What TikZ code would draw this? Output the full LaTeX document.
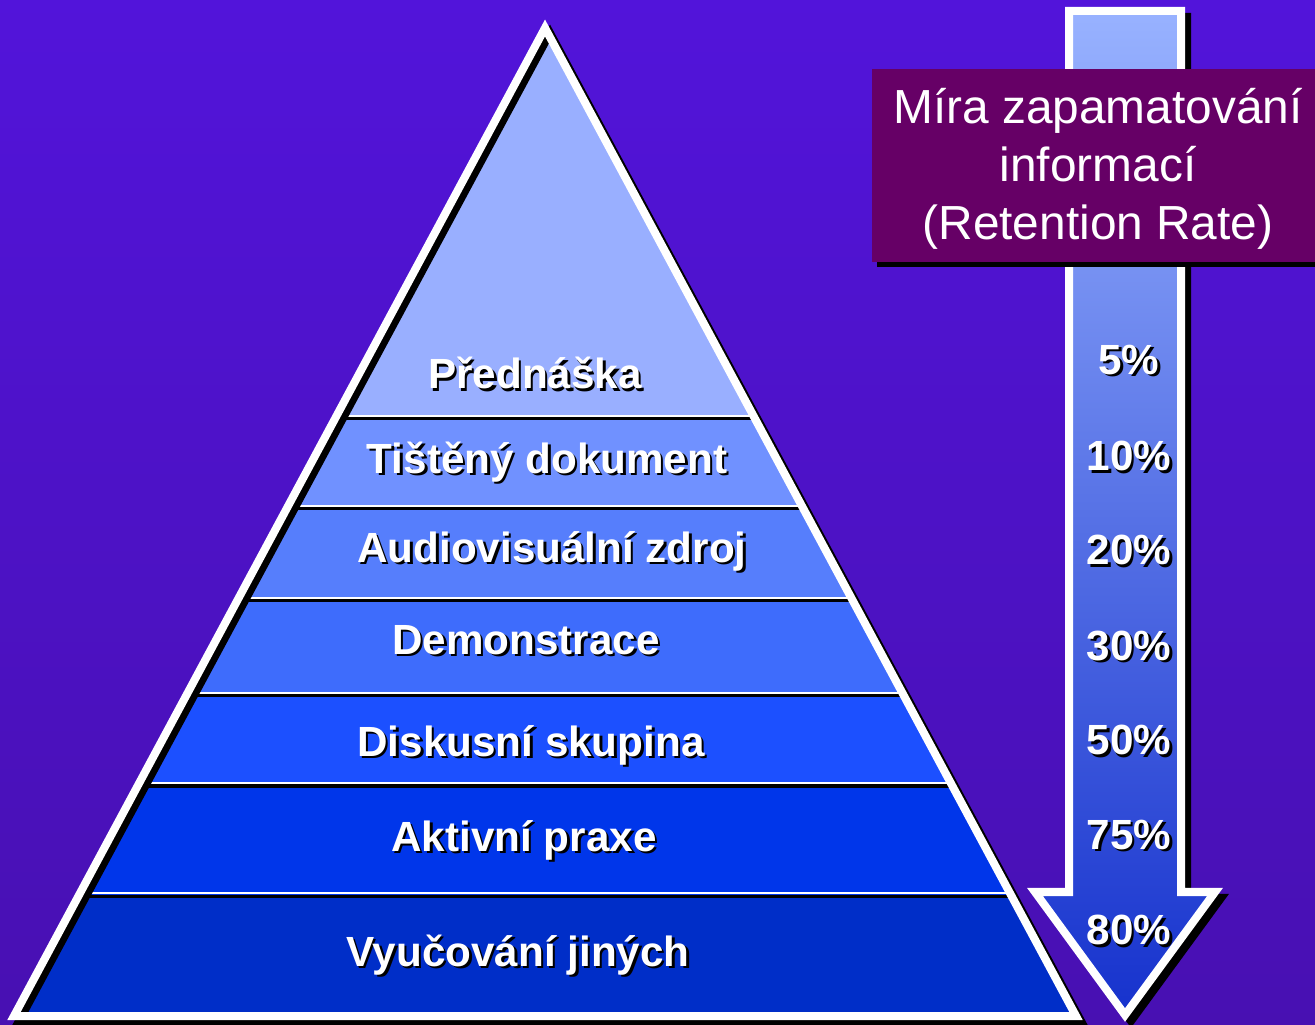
\documentclass[tikz,border=0pt]{standalone}
\usepackage{fontspec}
\setmainfont{Liberation Sans}
\usetikzlibrary{calc}

\definecolor{bgtop}{RGB}{82,20,218}
\definecolor{bgbot}{RGB}{72,16,178}
\definecolor{bandA}{RGB}{153,175,255}
\definecolor{bandB}{RGB}{112,145,255}
\definecolor{bandC}{RGB}{86,126,252}
\definecolor{bandD}{RGB}{62,108,252}
\definecolor{bandE}{RGB}{28,80,255}
\definecolor{bandF}{RGB}{0,54,234}
\definecolor{bandG}{RGB}{0,46,200}
\definecolor{arrowtop}{RGB}{152,178,255}
\definecolor{arrowbot}{RGB}{22,50,205}
\definecolor{boxfill}{RGB}{102,0,102}

% white label with a black drop shadow
\newcommand{\shadowlabel}[4]{%
  \node[lbl, text=black] (#1-sh) at (#2+2.5,#3+2.5) {#4};
  \node[lbl] (#1) at (#2,#3) {#4};}

\begin{document}
\begin{tikzpicture}[x=0.01cm, y=-0.01cm,
  lbl/.style={font=\bfseries\fontsize{12}{14}\selectfont, text=white, inner sep=0pt},
  edge/.style={line width=0.08cm, line join=miter}]
% define canvas
\useasboundingbox (0,0) rectangle (1315,1025);
\shade[top color=bgtop, bottom color=bgbot] (0,0) rectangle (1315,1025);

% set up coordinates
\coordinate (A) at (545,28);
\coordinate (B) at (14,1016);
\coordinate (C) at (1076,1016);

% fill the bands of the pyramid
\begin{scope}
  \clip (A) -- (B) -- (C) -- cycle;
  \foreach \top/\bot/\col in {0/418/bandA, 418/508/bandB, 508/600/bandC,
      600/695/bandD, 695/785/bandE, 785/895/bandF, 895/1025/bandG}
    \fill[\col] (0,\top) rectangle (1315,\bot);
  \foreach \b in {418,508,600,695,785,895} {
    \draw[white, line width=0.02cm] (0,\b-2) -- (1315,\b-2);
    \draw[black, line width=0.03cm] (0,\b+1) -- (1315,\b+1);
  }
\end{scope}

% draw pyramid outline with shadow
\draw[edge, black] ([shift={(5,5)}]A) -- ([shift={(5,5)}]B) -- ([shift={(5,5)}]C) -- cycle;
\draw[edge, white] (A) -- (B) -- (C) -- cycle;

% draw the arrow
\coordinate (T1) at (1069,11);
\coordinate (T2) at (1181,11);
\coordinate (S2) at (1181,892);
\coordinate (W2) at (1215,892);
\coordinate (P) at (1125,1015);
\coordinate (W1) at (1035,892);
\coordinate (S1) at (1069,892);
\filldraw[edge, black] ([shift={(6,6)}]T1) -- ([shift={(6,6)}]T2) -- ([shift={(6,6)}]S2)
  -- ([shift={(6,6)}]W2) -- ([shift={(6,6)}]P) -- ([shift={(6,6)}]W1)
  -- ([shift={(6,6)}]S1) -- cycle;
\shade[edge, draw=white, top color=arrowtop, bottom color=arrowbot]
  (T1) -- (T2) -- (S2) -- (W2) -- (P) -- (W1) -- (S1) -- cycle;

% draw the title box
\fill[black] (877,74) rectangle (1320,267);
\fill[boxfill] (872,69) rectangle (1320,262);
\node[text=white, align=center, font=\fontsize{13.6}{16.5}\selectfont] (rate) at (1098,169)
  {Míra zapamatování\\informací\\(Retention Rate)};

% define pyramid labels
\foreach \name/\x/\y/\txt in {lecture/535/373/Přednáška, reading/547/462/Tištěný dokument,
    audio/552/551/Audiovisuální zdroj, demo/526/640/Demonstrace,
    discuss/531/745/Diskusní skupina, practice/524/840/Aktivní praxe,
    teach/518/955/Vyučování jiných}
  {\shadowlabel{\name}{\x}{\y}{\txt}}

% define percentages
\foreach \v/\y in {5/360, 10/456, 20/550, 30/646, 50/740, 75/835, 80/930}
  {\shadowlabel{pct\v}{1129}{\y}{\v\%}}

\end{tikzpicture}
\end{document}
